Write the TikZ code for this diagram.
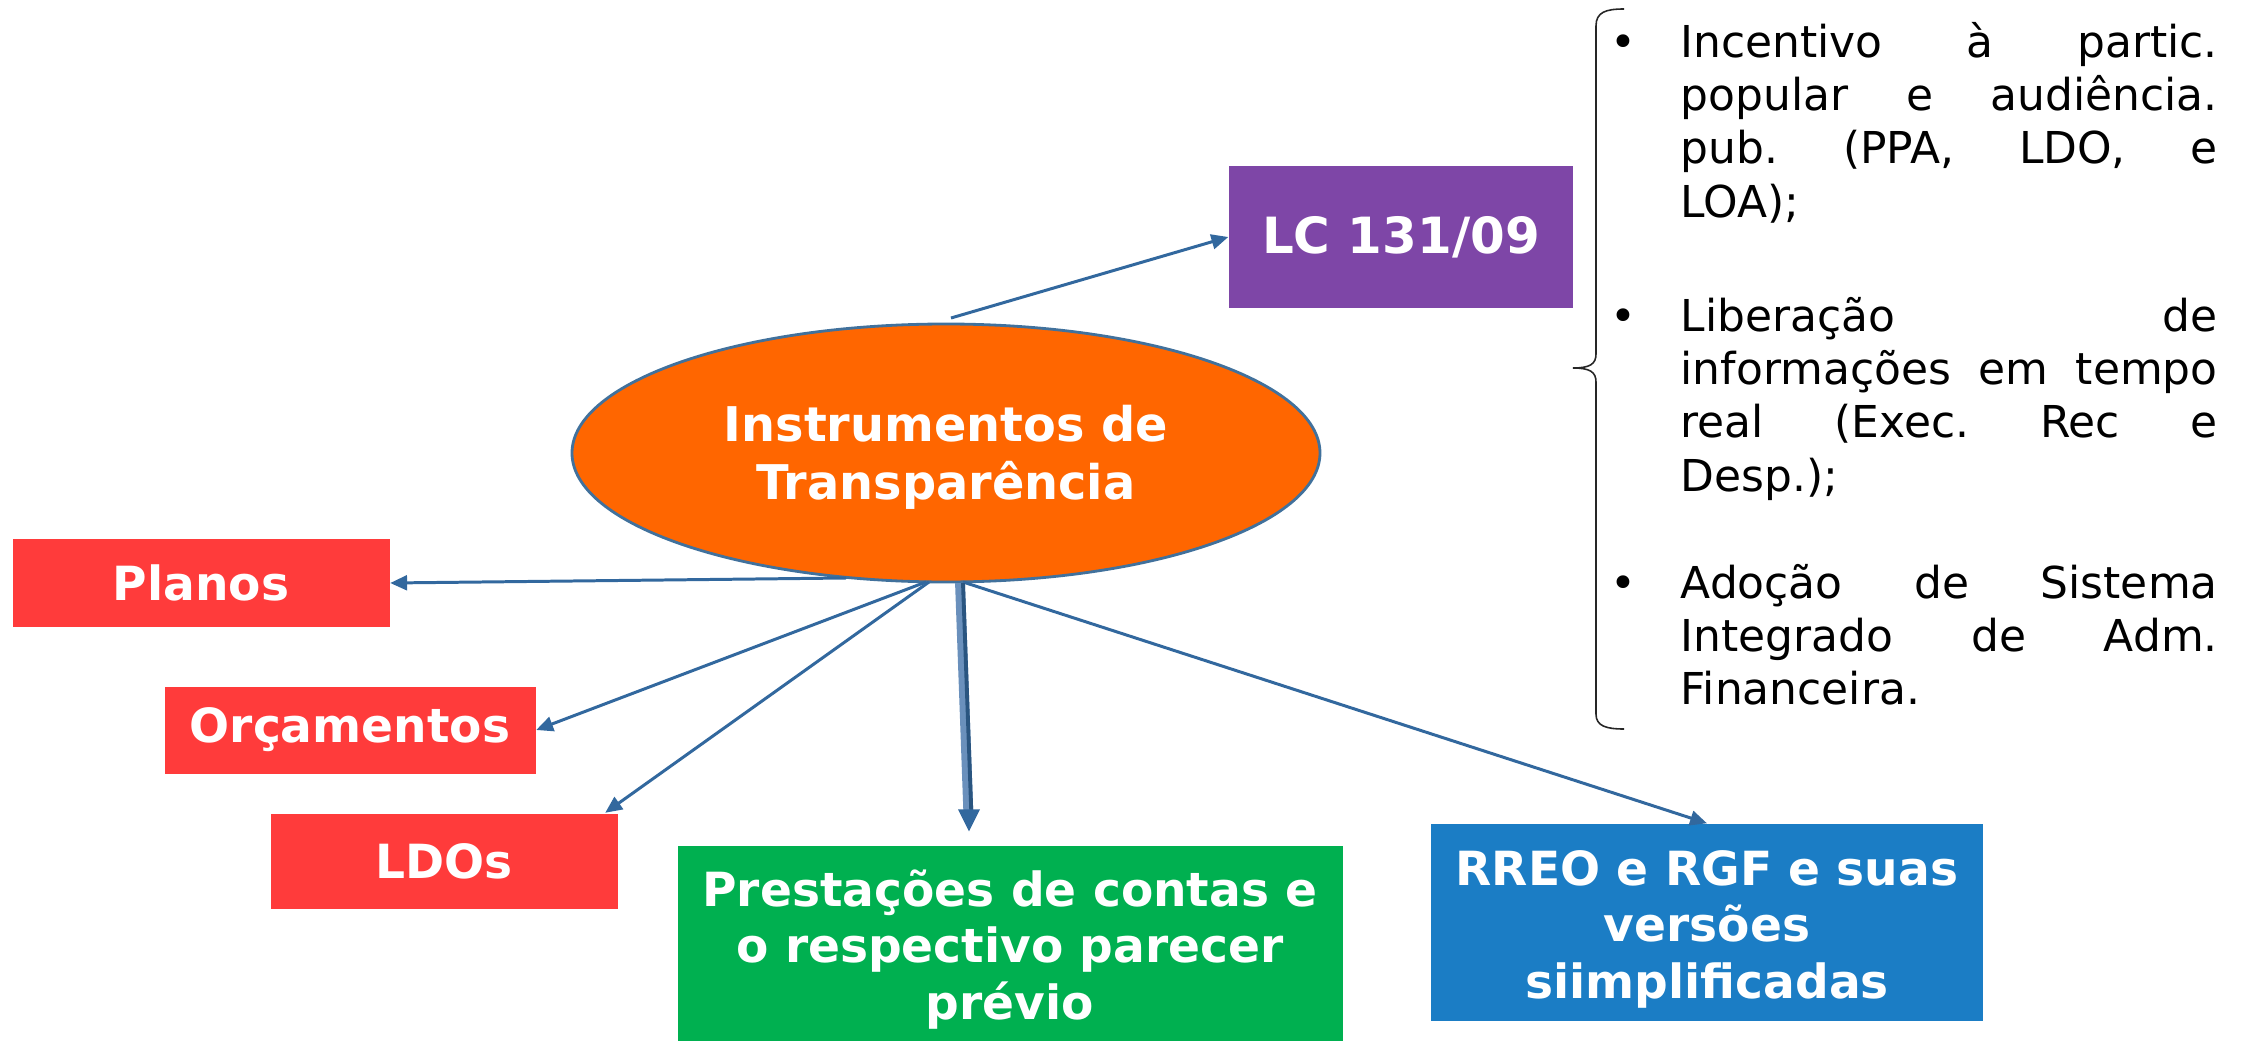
\documentclass[tikz,border=0pt]{standalone}
\usepackage{fontspec}
\setmainfont{DejaVu Sans}
\usetikzlibrary{arrows.meta,shapes.geometric,calc}
\definecolor{orng}{HTML}{FF6600}
\definecolor{ellb}{HTML}{41719C}
\definecolor{purp}{HTML}{7E46A7}
\definecolor{redb}{HTML}{FF3B3B}
\definecolor{grnb}{HTML}{00B050}
\definecolor{blub}{HTML}{1B7DC5}
\definecolor{arr}{HTML}{32689E}
\definecolor{arrlight}{HTML}{6A90BC}
\definecolor{arrdark}{HTML}{2A5580}
\newlength\tw \setlength\tw{53.7mm}
\newcommand\shiftdn[2]{\raisebox{-#1}[\height][\depth]{\begin{tabular}{@{}c@{}}#2\end{tabular}}}
\frenchspacing
\begin{document}
\begin{tikzpicture}[x=0.1mm,y=-0.1mm,
  box/.style={rectangle, inner sep=0, text=white, font=\fontsize{13.4}{16.2}\selectfont\bfseries, align=center},
  conn/.style={draw=arr, line width=0.85pt, -{Triangle[length=4.8pt,width=4.2pt]}},
  body/.style={font=\fontsize{12.5}{15.2}\selectfont, inner sep=0},
  brace/.style={draw=black!85, line width=0.45pt}]
\useasboundingbox (0,0) rectangle (2248,1041);

% central ellipse
\node[ellipse, fill=orng, draw=ellb, line width=0.8pt, minimum width=74.8mm, minimum height=25.8mm,
      inner sep=0, text=white, font=\fontsize{13.6}{16.5}\selectfont\bfseries, align=center] (ell) at (946,453)
      {\shiftdn{1.6pt}{Instrumentos de\\Transparência}};

% boxes
\node[box, fill=purp, font=\fontsize{14.2}{17}\selectfont\bfseries, minimum width=34.4mm, minimum height=14.2mm] (lc) at (1401,237) {LC 131/09};
\node[box, fill=redb, minimum width=37.7mm, minimum height=8.8mm] (planos) at (201,583) {Planos};
\node[box, fill=redb, minimum width=37.1mm, minimum height=8.7mm] (orc) at (350,730) {Orçamentos};
\node[box, fill=redb, minimum width=34.7mm, minimum height=9.5mm] (ldo) at (444,861) {LDOs};
\node[box, fill=grnb, minimum width=66.5mm, minimum height=19.5mm] (prest) at (1010,943.5) {\shiftdn{2.3pt}{Prestações de contas e\\o respectivo parecer\\prévio}};
\node[box, fill=blub, minimum width=55.2mm, minimum height=19.7mm] (rreo) at (1707,922.5) {\shiftdn{2.3pt}{RREO e RGF e suas\\versões\\siimplificadas}};

% connector start points on the ellipse
\coordinate (sLC) at (951,318);
\coordinate (sPl) at (846,578);
\coordinate (sOr) at (926,582);
\coordinate (sLd) at (929,582);
\coordinate (sPr) at (960,583);
\coordinate (sRr) at (963,582);

\draw[conn] (sLC) -- (lc.west);
\draw[conn] (sPl) -- (planos.east);
\draw[conn] (sOr) -- (orc.east);
\draw[conn] (sLd) -- ($(ldo.north east)+(-13,0)$);
\draw[conn] (sRr) -- (rreo.north);
% thick shaded arrow to the green box
\coordinate (tPr) at ($(prest.north)+(-41,-14)$);
\draw[draw=arrlight, line width=2.8pt, shorten >=5pt] (sPr) -- (tPr);
\draw[draw=arrdark, line width=1.1pt, shorten >=5pt] ($(sPr)+(3,0)$) -- ($(tPr)+(3,0)$);
\fill[arr] (tPr) -- ($(tPr)+(-11,-22)$) -- ($(tPr)+(11,-22)$) -- cycle;

% brace
\draw[brace] (1624,9) .. controls (1606,9) and (1596,12) .. (1596,26)
  -- (1596,354) .. controls (1596,364) and (1590,368) .. (1573,368)
  .. controls (1590,368) and (1596,372) .. (1596,382)
  -- (1596,714) .. controls (1596,726) and (1606,729) .. (1624,729);

% bullet texts
\node[body, anchor=base] (b1) at (1623,57) {\textbullet};
\node[body, anchor=base west] (t1) at (1680,57) {\parbox[t]{\tw}{%
\makebox[\tw][s]{Incentivo à partic.}\\
\makebox[\tw][s]{popular e audiência.}\\
\makebox[\tw][s]{pub. (PPA, LDO, e}\\
LOA);}};
\node[body, anchor=base] (b2) at (1623,331) {\textbullet};
\node[body, anchor=base west] (t2) at (1680,331) {\parbox[t]{\tw}{%
\makebox[\tw][s]{Liberação de}\\
\makebox[\tw][s]{informações em tempo}\\
\makebox[\tw][s]{real (Exec. Rec e}\\
Desp.);}};
\node[body, anchor=base] (b3) at (1623,598) {\textbullet};
\node[body, anchor=base west] (t3) at (1680,598) {\parbox[t]{\tw}{%
\makebox[\tw][s]{Adoção de Sistema}\\
\makebox[\tw][s]{Integrado de Adm.}\\
Financeira.}};
\end{tikzpicture}
\end{document}
